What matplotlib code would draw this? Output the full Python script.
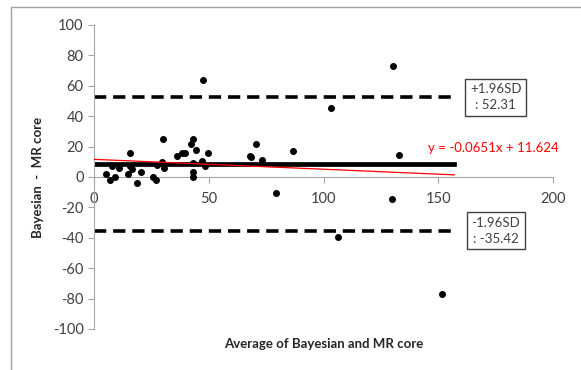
import matplotlib

matplotlib.use("Agg")
import matplotlib.pyplot as plt
import numpy as np
from matplotlib.patches import Rectangle

plt.rcParams["font.family"] = ["Lato", "DejaVu Sans"]
plt.rcParams["axes.unicode_minus"] = False

# average of the two methods vs difference
avg = [5.2, 7.0, 8.0, 9.2, 11.0, 14.7, 15.7, 15.7, 16.7, 18.9, 20.6, 25.6,
       26.9, 27.3, 30.2, 29.8, 30.5, 36.0, 38.2, 39.7, 42.3, 43.0, 44.5, 43.0,
       43.0, 43.0, 47.0, 47.4, 48.4, 49.8, 68.0, 68.4, 70.6, 73.0, 79.3, 86.6,
       103.3, 130.5, 132.7, 129.8, 106.5, 151.8]
diff = [2.0, -2.0, 7.0, 0.0, 6.0, 2.0, 16.0, 7.0, 5.0, -4.0, 3.5, 0.0,
        -2.0, 8.0, 25.0, 10.0, 6.0, 14.0, 15.5, 15.5, 21.7, 25.0, 18.0, 9.5,
        3.0, 0.0, 10.5, 64.0, 7.0, 15.5, 14.0, 13.0, 21.5, 11.0, -10.7, 17.3,
        45.2, 73.2, 14.5, -14.5, -39.3, -77.2]

mean_diff = 8.445
upper_loa = 52.31
lower_loa = -35.42
slope, intercept = -0.0651, 11.624
line_end = 157

fig = plt.figure(figsize=(5.81, 3.70), dpi=100)
fig.patches.append(Rectangle((11 / 581, -0.1), 1.2, 1 - 7 / 370 + 0.1,
                             transform=fig.transFigure, fill=False,
                             edgecolor="#a0a0a0", lw=1))
ax = fig.add_axes([94 / 581, 1 - 329 / 370, 459 / 581, 304 / 370])

ax.scatter(avg, diff, s=16, color="black", zorder=3)
ax.plot([0, line_end], [mean_diff, mean_diff], color="black", lw=3.4, zorder=2)
ax.plot([0, line_end], [upper_loa, upper_loa], color="black", lw=2.6,
        dashes=(3.4, 1.9))
ax.plot([0, line_end], [lower_loa, lower_loa], color="black", lw=2.6,
        dashes=(3.4, 1.9))
xs = np.array([0, line_end])
ax.plot(xs, slope * xs + intercept, color="#ff0000", lw=0.9, zorder=4)

ax.set_xlim(0, 200)
ax.set_ylim(-100, 100)
ax.set_xticks([0, 50, 100, 150, 200])
ax.set_yticks(np.arange(-100, 101, 20))

for s in ["top", "right"]:
    ax.spines[s].set_visible(False)
ax.spines["bottom"].set_position(("data", 0))
for s in ["left", "bottom"]:
    ax.spines[s].set_color("#a6a6a6")
ax.tick_params(colors="#a6a6a6", labelcolor="#404040", labelsize=10.5,
               length=4)
ax.tick_params(axis="x", pad=7)

ax.set_ylabel("Bayesian  -  MR core", fontsize=9.5, fontweight="bold",
              color="#262626", labelpad=6)
ax.text(100, -106, "Average of Bayesian and MR core", ha="center", va="top",
        fontsize=9.5, fontweight="bold", color="#262626")

box = dict(boxstyle="square,pad=0.35", fc="white", ec="#404040", lw=1)
ax.text(175, upper_loa, "+1.96SD\n: 52.31", ha="center", va="center",
        fontsize=9.5, color="#404040", bbox=box, linespacing=1.4,
        clip_on=False)
ax.text(175, lower_loa, "-1.96SD\n: -35.42", ha="center", va="center",
        fontsize=9.5, color="#404040", bbox=box, linespacing=1.4,
        clip_on=False)
ax.text(145.5, 19, "y = -0.0651x + 11.624", ha="left", va="center",
        fontsize=9.5, color="#ff0000", clip_on=False)

fig.savefig("out.png", dpi=100)
